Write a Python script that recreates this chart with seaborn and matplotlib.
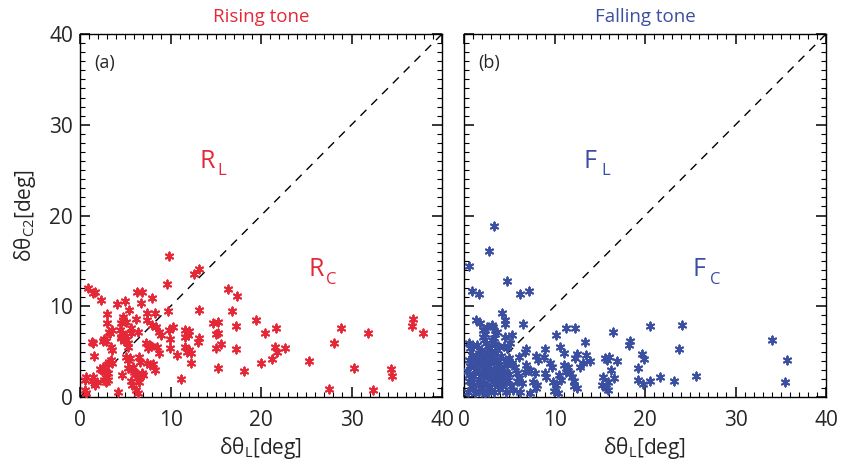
import numpy as np
import pandas as pd
import matplotlib
matplotlib.use("Agg")
import matplotlib.pyplot as plt
from matplotlib.ticker import MultipleLocator
import seaborn as sns

# ── Styling ──────────────────────────────────────────────────────────────────
sns.set_style("ticks")
plt.rcParams.update({
    "font.family": ["Open Sans", "DejaVu Sans"],
    "mathtext.fontset": "custom",
    "mathtext.rm": "Open Sans",
    "mathtext.default": "regular",
    "xtick.minor.visible": True,
    "ytick.minor.visible": True,
})

RED = "#E42838"
BLUE = "#3B4FA0"

# ── Data ─────────────────────────────────────────────────────────────────────
rise_x = [9.8, 13.1, 12.6, 9.6, 0.9, 1.4, 1.7, 2.3, 6.3, 6.9, 6.7, 5.0, 4.1, 8.0,
          16.4, 17.3, 13.1, 16.8, 9.7, 19.4, 20.4, 17.2, 14.7, 15.3, 15.0, 15.2,
          15.6, 15.0, 17.2, 13.1, 13.0, 11.6, 11.8, 11.6, 12.0, 11.9, 9.8, 10.3,
          9.9, 9.9, 10.7, 11.6, 12.0, 12.3, 11.8, 12.3, 15.3, 18.1, 20.0, 11.2,
          3.0, 5.4, 7.4, 8.3, 3.0, 4.8, 4.7, 4.5, 5.1, 6.2, 7.4, 8.4, 7.9,
          3.3, 3.2, 3.5, 4.4, 4.6, 4.5, 5.6, 5.6, 6.4, 8.7, 8.9,
          1.4, 1.3, 2.5, 2.9, 2.7, 4.5, 4.9, 5.3, 5.1,
          3.4, 3.5, 5.3, 7.3, 7.6, 7.5, 7.8, 8.5, 8.7,
          1.6, 3.4, 3.2, 3.5, 3.1, 5.1, 5.3, 5.5, 6.5, 6.6, 7.4, 7.7, 8.1, 8.3,
          2.2, 2.4, 2.5, 2.9, 3.1, 5.3, 5.7, 5.9, 6.0, 6.2, 6.6, 6.8, 7.0, 4.6,
          0.7, 0.5, 1.4, 1.3, 1.7, 1.9, 2.9, 2.9, 3.1, 2.6, 5.6, 5.8, 6.3, 6.5,
          0.5, 0.7, 4.2, 6.2, 6.4,
          21.7, 21.2, 21.5, 21.8, 22.7, 25.3, 27.5, 28.8, 28.1, 30.3, 31.8, 32.4,
          34.4, 34.5, 36.8, 36.7, 37.9]
rise_y = [15.5, 14.1, 13.6, 12.5, 12.0, 11.5, 11.6, 10.7, 11.6, 11.6, 10.4, 10.6, 10.2, 10.9,
          11.9, 11.1, 9.6, 9.5, 9.5, 8.5, 7.0, 7.8, 8.2, 8.3, 6.9, 7.0,
          5.8, 5.4, 5.3, 6.5, 6.1, 7.4, 7.0, 6.6, 7.3, 6.8, 7.4, 7.7,
          6.4, 5.4, 4.6, 5.5, 5.2, 4.8, 5.0, 3.7, 3.2, 2.9, 3.8, 2.0,
          9.2, 9.6, 9.3, 9.3, 8.2, 8.8, 8.5, 8.2, 8.3, 8.6, 8.5, 7.7, 7.9,
          7.0, 7.2, 7.4, 7.4, 7.0, 6.6, 7.6, 7.0, 7.2, 7.2, 6.8,
          5.9, 6.1, 6.2, 6.2, 6.4, 6.5, 6.2, 6.0, 6.7,
          5.5, 5.2, 5.5, 5.9, 5.7, 5.4, 5.6, 5.5, 4.9,
          4.5, 4.1, 3.9, 3.7, 3.6, 4.4, 4.1, 4.3, 4.4, 3.9, 3.8, 3.5, 3.6, 3.0,
          3.1, 3.0, 3.3, 2.8, 2.6, 3.2, 3.0, 3.3, 2.8, 2.5, 2.3, 2.6, 2.4, 2.4,
          2.2, 1.9, 2.2, 1.8, 1.3, 1.6, 2.1, 1.6, 1.9, 1.9, 1.8, 1.3, 2.1, 1.6,
          0.8, 0.4, 0.5, 0.8, 0.4,
          7.6, 4.2, 5.5, 5.0, 5.4, 4.0, 0.85, 7.6, 6.0, 3.2, 7.0, 0.8,
          3.1, 2.3, 8.6, 7.8, 7.1]

fall_x = [3.35, 2.8, 0.6, 4.8, 0.85, 1.6, 6.2, 7.2, 4.2, 1.3, 1.8, 4.5, 4.5, 6.5,
          3.1, 3.2, 2.5, 11.3, 12.3, 16.5, 20.5, 24.1, 23.7, 10.2, 5.3, 13.4,
          18.3, 18.2, 10.6, 11.0, 8.9, 8.8, 6.9, 6.7, 6.1, 8.0, 8.2, 12.5, 12.3,
          13.5, 13.9, 13.2, 12.8, 15.6, 16.0, 15.8, 16.9, 19.7, 19.9, 19.2, 16.2,
          15.4, 15.9, 15.3, 15.7, 15.9, 16.6, 19.2, 19.8, 20.5, 21.7, 23.2, 25.6,
          34.0, 35.7, 35.5,
          11.0, 11.3, 11.5, 11.7, 11.9, 12.2, 12.1, 12.5, 9.8, 10.2, 9.9, 10.4,
          10.7, 10.5, 9.5, 9.7, 8.9, 9.1, 7.3, 7.8, 6.9, 7.1, 6.7, 5.9, 6.1, 6.4,
          5.8, 7.6, 8.1, 7.9, 7.3, 6.2, 5.4, 4.3, 4.6, 4.9, 5.3, 5.6,
          4.5, 4.8, 5.1, 2.1, 2.2, 2.3, 2.1, 3.1, 3.4, 3.6, 3.3, 0.7, 1.0, 1.4,
          0.6, 2.6, 2.9, 2.4, 3.4, 3.9, 4.4,
          0.4, 0.8, 1.2, 0.5, 1.0, 1.5, 1.9, 2.3, 2.1, 2.6, 2.9, 3.3, 3.6, 3.9,
          4.2, 4.6, 0.3, 0.7, 1.2, 1.6, 1.8, 2.2, 2.6, 2.9, 3.3, 3.6, 4.0, 4.4,
          4.8, 0.5, 0.9, 1.3, 1.7, 2.0, 2.4, 2.8, 3.2, 3.5, 3.8, 4.1, 1.1, 1.7,
          2.5, 3.1, 3.4, 2.0, 1.4, 0.6, 2.7, 3.9, 4.3, 5.0, 5.2, 1.9, 2.5, 3.0,
          0.9, 1.6, 2.3, 3.0, 3.7, 4.5, 5.0, 1.0, 2.6]
fall_y = [18.8, 16.1, 14.4, 12.8, 11.7, 11.3, 11.4, 11.7, 9.3, 8.5, 8.2, 8.5, 8.0, 8.0,
          7.9, 7.7, 7.7, 7.6, 7.6, 7.2, 7.8, 7.9, 5.3, 6.8, 6.8, 6.1,
          6.2, 5.7, 5.5, 4.9, 5.3, 4.4, 5.3, 5.0, 4.4, 4.5, 4.1, 4.7, 4.3,
          4.6, 4.0, 3.8, 3.3, 4.3, 4.4, 4.1, 4.0, 4.7, 4.2, 3.2, 3.0,
          2.2, 1.7, 1.3, 1.0, 0.8, 2.1, 1.9, 1.4, 1.8, 2.2, 1.8, 2.3,
          6.3, 4.1, 1.6,
          3.5, 2.8, 3.3, 2.6, 2.2, 1.8, 1.2, 1.0, 1.7, 1.3, 0.7, 0.4,
          1.9, 2.4, 3.7, 3.3, 2.6, 2.2, 3.0, 2.6, 3.5, 3.0, 2.8, 2.6, 2.1, 1.5,
          1.8, 1.7, 1.3, 1.0, 0.4, 0.6, 0.8, 2.1, 1.7, 1.9, 3.7, 3.3,
          6.6, 5.4, 6.0, 7.4, 6.3, 6.9, 6.6, 6.3, 6.9, 7.2, 6.5, 5.4, 5.6, 5.7,
          5.9, 5.6, 5.4, 5.9, 5.8, 5.5, 5.6,
          0.5, 1.2, 0.4, 1.8, 2.3, 1.6, 0.9, 0.3, 1.5, 2.2, 1.1, 0.6, 1.8, 2.6,
          1.2, 0.5, 2.9, 3.4, 3.0, 2.6, 3.8, 3.3, 2.9, 3.7, 3.1, 2.4, 3.3, 2.8,
          3.5, 4.1, 4.6, 4.2, 4.9, 4.4, 4.0, 4.6, 4.2, 4.8, 4.0, 4.5, 1.0, 2.0,
          1.3, 2.0, 1.4, 2.7, 3.6, 2.4, 0.7, 0.9, 1.9, 2.5, 1.2, 5.2, 5.0, 5.1,
          1.6, 0.7, 2.4, 2.6, 3.5, 4.0, 4.3, 3.9, 3.5]

titles = ["Rising tone", "Falling tone"]
tags = ["(a)", "(b)"]
letters = ["R", "F"]

# ── Figure ───────────────────────────────────────────────────────────────────
fig = plt.figure(figsize=(8.44, 4.61), dpi=100)
ax_r = fig.add_axes([0.0948, 0.1388, 0.4289, 0.7874])
ax_f = fig.add_axes([0.5498, 0.1388, 0.4289, 0.7874])

panels = [(ax_r, rise_x, rise_y, RED), (ax_f, fall_x, fall_y, BLUE)]
for i, (ax, xs, ys, col) in enumerate(panels):
    ax.axline((0, 0), slope=1, color="black", lw=1, ls=(0, (6, 5)), zorder=2)
    sns.scatterplot(x=xs, y=ys, ax=ax, marker=(6, 2, 0), color=col,
                    s=34, linewidth=1.4, zorder=3, legend=False)
    ax.set_xlim(0, 40)
    ax.set_ylim(0, 40)
    ax.xaxis.set_major_locator(MultipleLocator(10))
    ax.yaxis.set_major_locator(MultipleLocator(10))
    ax.xaxis.set_minor_locator(MultipleLocator(1))
    ax.yaxis.set_minor_locator(MultipleLocator(1))
    ax.tick_params(which="both", direction="in", top=True, right=True,
                   color="black", labelsize=15)
    ax.tick_params(which="major", length=7, width=1.1)
    ax.tick_params(which="minor", length=3.5, width=0.8)
    ax.tick_params(axis="x", which="major", pad=9)
    ax.tick_params(axis="y", which="major", pad=5)
    for sp in ax.spines.values():
        sp.set_color("black")
        sp.set_linewidth(1)
    ax.set_title(titles[i], color=col, fontsize=13.5, pad=9)
    ax.text(0.04, 0.92, tags[i], transform=ax.transAxes, fontsize=13,
            ha="left", va="center")
    # region labels
    ax.text(13.15, 26.0, letters[i], color=col, fontsize=18, ha="left", va="center")
    ax.text(15.2, 24.9, "L", color=col, fontsize=12, ha="left", va="center")
    ax.text(25.2, 14.1, letters[i], color=col, fontsize=18, ha="left", va="center")
    ax.text(27.15, 12.9, "C", color=col, fontsize=12, ha="left", va="center")
    ax.set_xlabel(r"δθ$_{\mathregular{L}}$[deg]", fontsize=15, labelpad=3)

ax_r.set_ylabel(r"δθ$_{\mathregular{C2}}$[deg]", fontsize=15, labelpad=8)
ax_f.tick_params(labelleft=False)

plt.savefig("out.png", dpi=100)
plt.close()
